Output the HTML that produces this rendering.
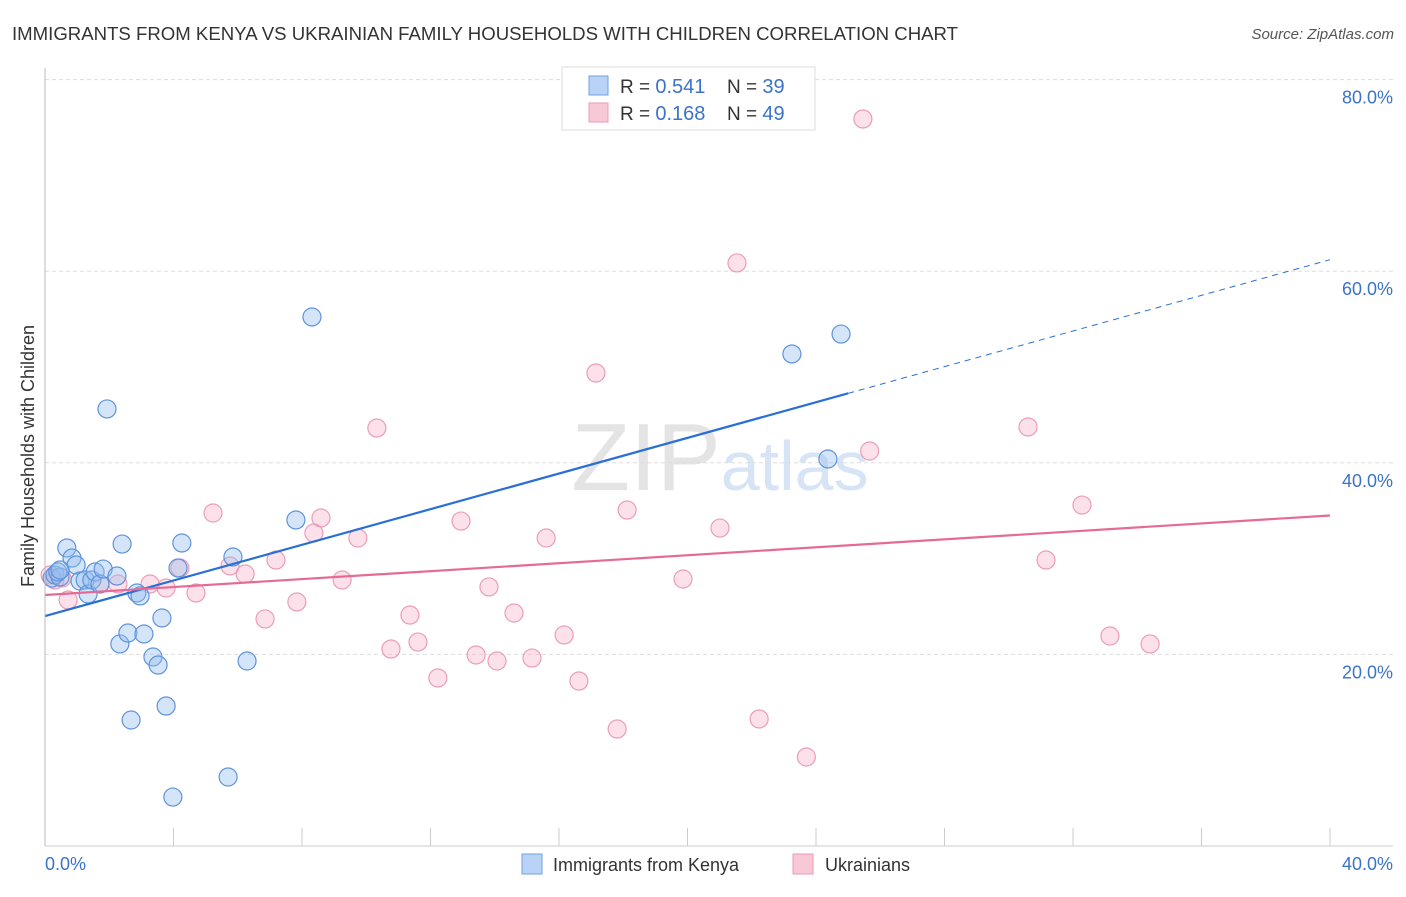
<!DOCTYPE html>
<html><head><meta charset="utf-8"><style>
body{margin:0;background:#fff;font-family:"Liberation Sans",sans-serif;}
svg text{font-family:"Liberation Sans",sans-serif;}
</style></head><body>
<svg width="1406" height="892" id="chart">
<text x="12" y="40" font-size="18" fill="#333" textLength="946" lengthAdjust="spacingAndGlyphs">IMMIGRANTS FROM KENYA VS UKRAINIAN FAMILY HOUSEHOLDS WITH CHILDREN CORRELATION CHART</text>
<text x="1394" y="39" font-size="15" fill="#555" font-style="italic" text-anchor="end">Source: ZipAtlas.com</text>
<text x="720" y="490" font-size="96" fill="#e4e4e4" text-anchor="middle" font-family="Liberation Serif">ZIP<tspan fill="#d6e4f5" font-family="Liberation Sans" font-size="70">atlas</tspan></text>
<text transform="translate(34,456) rotate(-90)" font-size="18" fill="#333" text-anchor="middle">Family Households with Children</text>
<g id="grid"></g><g id="ticks"></g><g id="pts"></g><g id="lines"></g>
<line x1="45" y1="68" x2="45" y2="846" stroke="#bbb"/>
<line x1="45" y1="846" x2="1393" y2="846" stroke="#ccc"/>
<text x="45" y="870" font-size="18" fill="#3b73c9">0.0%</text>
<text x="1393" y="870" font-size="18" fill="#3b73c9" text-anchor="end">40.0%</text>
<g>
<rect x="562" y="67" width="253" height="63" fill="#fff" stroke="#ddd"/>
<rect x="589" y="76" width="19" height="19" fill="#b8d3f5" stroke="#6fa0e0"/>
<rect x="589" y="103" width="19" height="19" fill="#f9c8d6" stroke="#ee9ab5"/>
<text x="620" y="93" font-size="19" fill="#333">R = <tspan fill="#3b73c9" font-size="20">0.541</tspan></text>
<text x="727" y="93" font-size="19" fill="#333">N = <tspan fill="#3b73c9" font-size="20">39</tspan></text>
<text x="620" y="120" font-size="19" fill="#333">R = <tspan fill="#3b73c9" font-size="20">0.168</tspan></text>
<text x="727" y="120" font-size="19" fill="#333">N = <tspan fill="#3b73c9" font-size="20">49</tspan></text>
</g>
<g>
<rect x="522" y="854" width="20" height="20" fill="#b8d3f5" stroke="#6fa0e0"/>
<text x="553" y="871" font-size="18" fill="#333">Immigrants from Kenya</text>
<rect x="793" y="854" width="20" height="20" fill="#f9c8d6" stroke="#ee9ab5"/>
<text x="825" y="871" font-size="18" fill="#333">Ukrainians</text>
</g>
</svg>
<script>
const yTicks=[20,40,60,80];
const xTickCount=[0,1,2,3,4,5,6,7,8,9,10];
const kenyaX=[0.22,0.31,0.47,0.40,0.68,0.84,0.97,1.09,1.25,1.34,1.46,1.56,1.71,1.81,1.93,2.24,2.33,2.40,2.58,2.68,2.86,2.96,3.08,3.36,3.52,3.64,3.77,3.98,4.14,4.26,5.70,5.85,6.29,7.81,8.31,23.25,24.37,24.78,0.47];
const kenyaY=[27.97,28.29,28.08,28.60,31.11,30.06,29.33,27.66,27.77,26.30,27.77,28.60,27.35,28.91,45.62,28.18,21.09,31.52,22.23,13.15,26.41,26.10,22.13,19.73,18.89,23.80,14.61,5.11,29.02,31.63,7.20,30.17,19.31,34.03,55.22,51.36,40.40,53.44,28.81];
const ukrX=[0.16,0.31,0.53,0.72,1.71,2.27,3.27,3.77,4.20,4.70,5.23,5.76,6.23,6.85,7.19,7.84,8.37,8.59,9.25,9.74,10.33,10.77,11.36,11.61,12.23,12.95,13.42,13.82,14.07,14.60,15.16,15.60,16.16,16.62,17.15,17.81,18.12,19.86,21.01,21.54,22.23,23.70,25.46,25.67,30.60,31.16,32.28,33.15,34.40];
const ukrY=[28.29,27.77,27.97,25.68,27.35,27.35,27.35,26.93,29.02,26.41,34.76,29.23,28.39,23.70,29.85,25.47,32.67,34.24,27.77,32.15,43.63,20.56,24.11,21.29,17.54,33.92,19.94,27.04,19.31,24.32,19.62,32.15,22.03,17.22,49.37,12.21,35.07,27.87,33.19,60.86,13.26,9.29,75.89,41.23,43.74,29.85,35.59,21.92,21.09];
const kenyaTrend=[24.0,61.2];
const kenyaSolidEnd=25;
const ukrTrend=[26.2,34.5];
const NS='http://www.w3.org/2000/svg';
const sx=v=>45+v/40*1285, sy=v=>846-v*9.58;
function mk(tag,attrs,parent){const e=document.createElementNS(NS,tag);for(const k in attrs)e.setAttribute(k,attrs[k]);document.getElementById(parent).appendChild(e);return e;}
yTicks.forEach(t=>{
 const l=mk('line',{x1:45,x2:1393,y1:sy(t),y2:sy(t),stroke:'#ddd','stroke-dasharray':'4,3'},'grid');
 
 
 const tx=mk('text',{x:1393,y:sy(t)+24,'font-size':18,fill:'#3b73c9','text-anchor':'end'},'grid');
 tx.textContent=t.toFixed(1)+'%';
 
 
});
xTickCount.forEach(i=>{
 const l=mk('line',{x1:sx(i*4),x2:sx(i*4),y1:828,y2:846,stroke:'#ccc'},'ticks');
 
 
});
function dots(xs,ys,fill,stroke,name){xs.forEach((x,i)=>{
 const c=mk('circle',{cx:sx(x),cy:sy(ys[i]),r:9,fill:fill,stroke:stroke,'stroke-width':1.2},'pts');
 
 
});}
dots(ukrX,ukrY,'rgba(245,170,195,0.35)','#eb9db8','ukrainians-point');
dots(kenyaX,kenyaY,'rgba(150,190,240,0.4)','#5f93da','kenya-point');
const kAt=x=>kenyaTrend[0]+(kenyaTrend[1]-kenyaTrend[0])*x/40;
let l1=mk('line',{x1:sx(0),y1:sy(kAt(0)),x2:sx(kenyaSolidEnd),y2:sy(kAt(kenyaSolidEnd)),stroke:'#2a6fd6','stroke-width':2.2},'lines');


let l2=mk('line',{x1:sx(kenyaSolidEnd),y1:sy(kAt(kenyaSolidEnd)),x2:sx(40),y2:sy(kAt(40)),stroke:'#2a6fd6','stroke-width':1,'stroke-dasharray':'6,5'},'lines');


let l3=mk('line',{x1:sx(0),y1:sy(ukrTrend[0]),x2:sx(40),y2:sy(ukrTrend[1]),stroke:'#e56a96','stroke-width':2.2},'lines');


</script>
</body></html>
